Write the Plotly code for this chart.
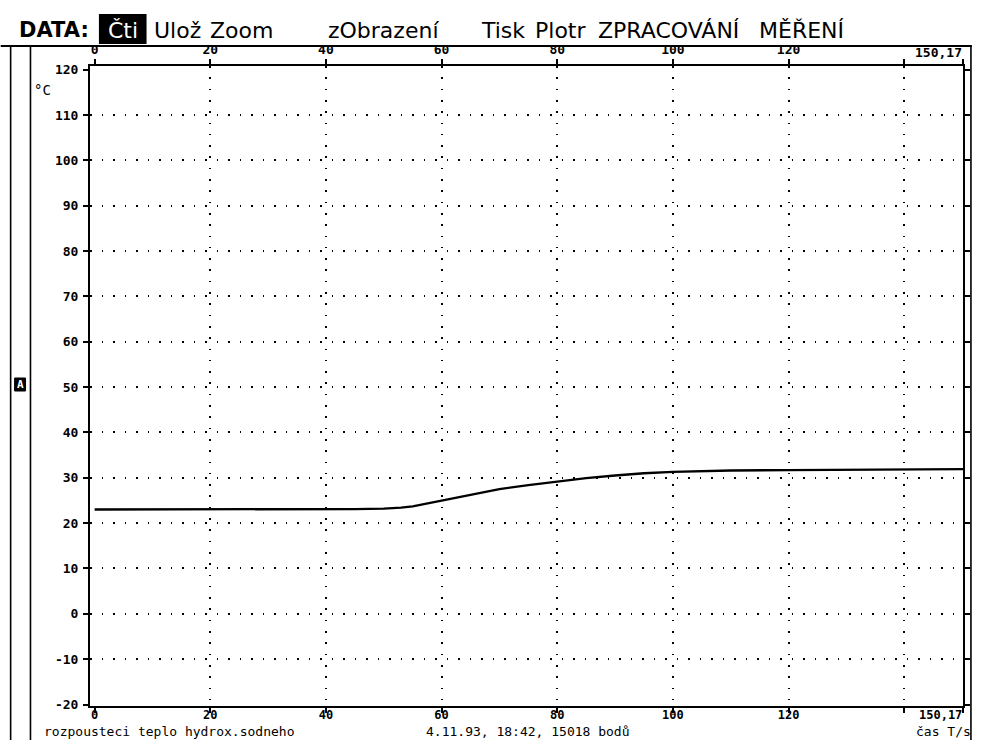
import plotly.graph_objects as go

# Measurement: dissolution heat of sodium hydroxide, temperature vs time
time_s = [0, 10, 20, 30, 40, 45, 50, 53, 55, 57, 60, 63, 66, 70, 75, 80,
          85, 90, 95, 100, 105, 110, 120, 130, 140, 150.17]
temp_c = [23.0, 23.0, 23.0, 23.0, 23.1, 23.1, 23.2, 23.4, 23.7, 24.2, 25.0,
          25.8, 26.5, 27.5, 28.4, 29.2, 29.9, 30.5, 31.0, 31.3, 31.5, 31.6,
          31.7, 31.8, 31.8, 31.9]

x_tick_vals = [0, 20, 40, 60, 80, 100, 120, 140, 150.17]
x_tick_text = ["0", "20", "40", "60", "80", "100", "120", "", ""]
x_grid_vals = [20, 40, 60, 80, 100, 120, 140]
y_tick_vals = [-20, -10, 0, 10, 20, 30, 40, 50, 60, 70, 80, 90, 100, 110, 120]
y_tick_text = ["-20", "-10", "0", "10", "20", "30", "40", "50", "60", "70",
               "80", "90", "100", "110", "120"]
y_grid_vals = [-10, 0, 10, 20, 30, 40, 50, 60, 70, 80, 90, 100, 110]

x_end_label = "150,17"
menu_items = [("Ulož", 152), ("Zoom", 209), ("zObrazení", 328),
              ("Tisk", 482), ("Plotr", 537), ("ZPRACOVÁNÍ", 600), ("MĚŘENÍ", 762)]
menu_title = "DATA:"
menu_active = "Čti"

W, H = 981, 740
L, R, T, B = 90, 11, 66, 34
PW, PH = W - L - R, H - T - B


def px(x):
    return (x - L) / PW


def py(y):
    return 1 - (y - T) / PH


MONO = "DejaVu Sans Mono"
SANS = "DejaVu Sans"
tick_font = dict(family=MONO, size=13, color="black", weight="bold")
bottom_font = dict(family=MONO, size=12, color="black", weight="bold")
note_font = dict(family=MONO, size=13, color="black")

fig = go.Figure()
fig.add_trace(go.Scatter(x=time_s, y=temp_c, mode="lines",
                         line=dict(color="black", width=2.3),
                         hoverinfo="skip", showlegend=False))
# empty traces so the overlay axes get their own subplots
fig.add_trace(go.Scatter(x=[], y=[], xaxis="x2", yaxis="y", showlegend=False))
fig.add_trace(go.Scatter(x=[], y=[], xaxis="x3", yaxis="y3", showlegend=False))
fig.add_trace(go.Scatter(x=[], y=[], xaxis="x4", yaxis="y", showlegend=False))

x_range = [-0.8, 150.17]
y_range = [-20.33, 120.8]

line_common = dict(showgrid=False, zeroline=False, showline=True,
                   linecolor="black", linewidth=2, ticks="outside",
                   tickwidth=1.5, tickcolor="black")

fig.update_layout(
    width=W, height=H,
    margin=dict(l=L, r=R, t=T, b=B, pad=0),
    paper_bgcolor="white", plot_bgcolor="white",
    showlegend=False,
    # bottom axis: line and tick marks
    xaxis=dict(range=x_range, tickmode="array", tickvals=x_tick_vals,
               side="bottom", mirror=False, ticklen=5,
               showticklabels=False, **line_common),
    # bottom axis labels, set close to the frame
    xaxis4=dict(range=x_range, overlaying="x", anchor="y", side="bottom",
                tickmode="array", tickvals=x_tick_vals, ticktext=x_tick_text,
                ticks="", showline=False, showgrid=False, zeroline=False,
                tickfont=bottom_font, ticklabelstandoff=0),
    xaxis2=dict(range=x_range, tickmode="array", tickvals=x_tick_vals,
                ticktext=x_tick_text, side="top", overlaying="x",
                anchor="y", ticklen=5, ticklabelstandoff=0,
                tickfont=tick_font, **line_common),
    xaxis3=dict(range=x_range, overlaying="x", anchor="y3", tickmode="array",
                tickvals=x_grid_vals, showticklabels=False, ticks="",
                showline=False, zeroline=False, showgrid=True,
                gridcolor="black", gridwidth=1.6, griddash="1.6px,9.7px"),
    yaxis=dict(range=y_range, tickmode="array", tickvals=y_tick_vals,
               ticktext=y_tick_text, mirror="ticks", ticklen=5,
               ticklabelstandoff=2, tickfont=tick_font, **line_common),
    yaxis3=dict(range=y_range, overlaying="y", anchor="x3", tickmode="array",
                tickvals=y_grid_vals, showticklabels=False, ticks="",
                showline=False, zeroline=False, showgrid=True,
                gridcolor="black", gridwidth=1.6, griddash="1.6px,9.9px"),
)

shapes = [
    # frame lines around the screen
    dict(type="line", xref="paper", yref="paper", x0=px(0), x1=px(979),
         y0=py(46), y1=py(46), line=dict(color="black", width=2)),
    dict(type="line", xref="paper", yref="paper", x0=px(10), x1=px(10),
         y0=py(46), y1=py(740), line=dict(color="black", width=1.6)),
    dict(type="line", xref="paper", yref="paper", x0=px(30), x1=px(30),
         y0=py(46), y1=py(740), line=dict(color="black", width=1.6)),
    dict(type="line", xref="paper", yref="paper", x0=px(978), x1=px(978),
         y0=py(46), y1=py(740), line=dict(color="black", width=1.6)),
    # channel marker box
    dict(type="rect", xref="paper", yref="paper", x0=px(14), x1=px(25),
         y0=py(378), y1=py(391), fillcolor="black",
         line=dict(color="black", width=1)),
    # highlighted menu item
    dict(type="rect", xref="paper", yref="paper", x0=px(99), x1=px(147),
         y0=py(14), y1=py(44), fillcolor="black", line=dict(width=0)),
]
fig.update_layout(shapes=shapes)

menu_font = dict(family=SANS, size=22, color="black")
ann = [dict(text=menu_title, xref="paper", yref="paper", x=px(16), y=py(30),
            xanchor="left", yanchor="middle", showarrow=False,
            font=dict(family=SANS, size=21, color="black", weight="bold"))]
for text, left in menu_items:
    ann.append(dict(text=text, xref="paper", yref="paper", x=px(left),
                    y=py(30), xanchor="left", yanchor="middle",
                    showarrow=False, font=menu_font))
ann.append(dict(text=menu_active, xref="paper", yref="paper", x=px(123),
                y=py(30), xanchor="center", yanchor="middle",
                showarrow=False, font=dict(family=SANS, size=22, color="white")))
ann += [
    dict(text="A", xref="paper", yref="paper", x=px(19.5), y=py(384.5),
         xanchor="center", yanchor="middle", showarrow=False,
         font=dict(family=MONO, size=11, color="white", weight="bold")),
    dict(text="°C", xref="paper", yref="paper", x=px(32), y=py(90),
         xanchor="left", yanchor="middle", showarrow=False,
         font=dict(family=MONO, size=14, color="black")),
    dict(text=x_end_label, xref="x", yref="paper", x=150.17, y=py(52.5),
         xanchor="right", yanchor="middle", showarrow=False, font=tick_font,
         xshift=1),
    dict(text=x_end_label, xref="x", yref="paper", x=150.17, y=py(715),
         xanchor="right", yanchor="middle", showarrow=False, font=bottom_font,
         xshift=1),
    dict(text="rozpousteci teplo hydrox.sodneho", xref="paper", yref="paper",
         x=px(43), y=py(740), xanchor="left", yanchor="bottom", borderpad=0,
         showarrow=False, font=note_font),
    dict(text="4.11.93, 18:42, 15018 bodů", xref="paper", yref="paper",
         x=px(532), y=py(740), xanchor="center", yanchor="bottom", borderpad=0,
         showarrow=False, font=note_font),
    dict(text="čas T/s", xref="paper", yref="paper", x=px(979), y=py(740),
         xanchor="right", yanchor="bottom", borderpad=0,
         showarrow=False, font=note_font),
]
fig.update_layout(annotations=ann)

fig.write_html("out.html")
